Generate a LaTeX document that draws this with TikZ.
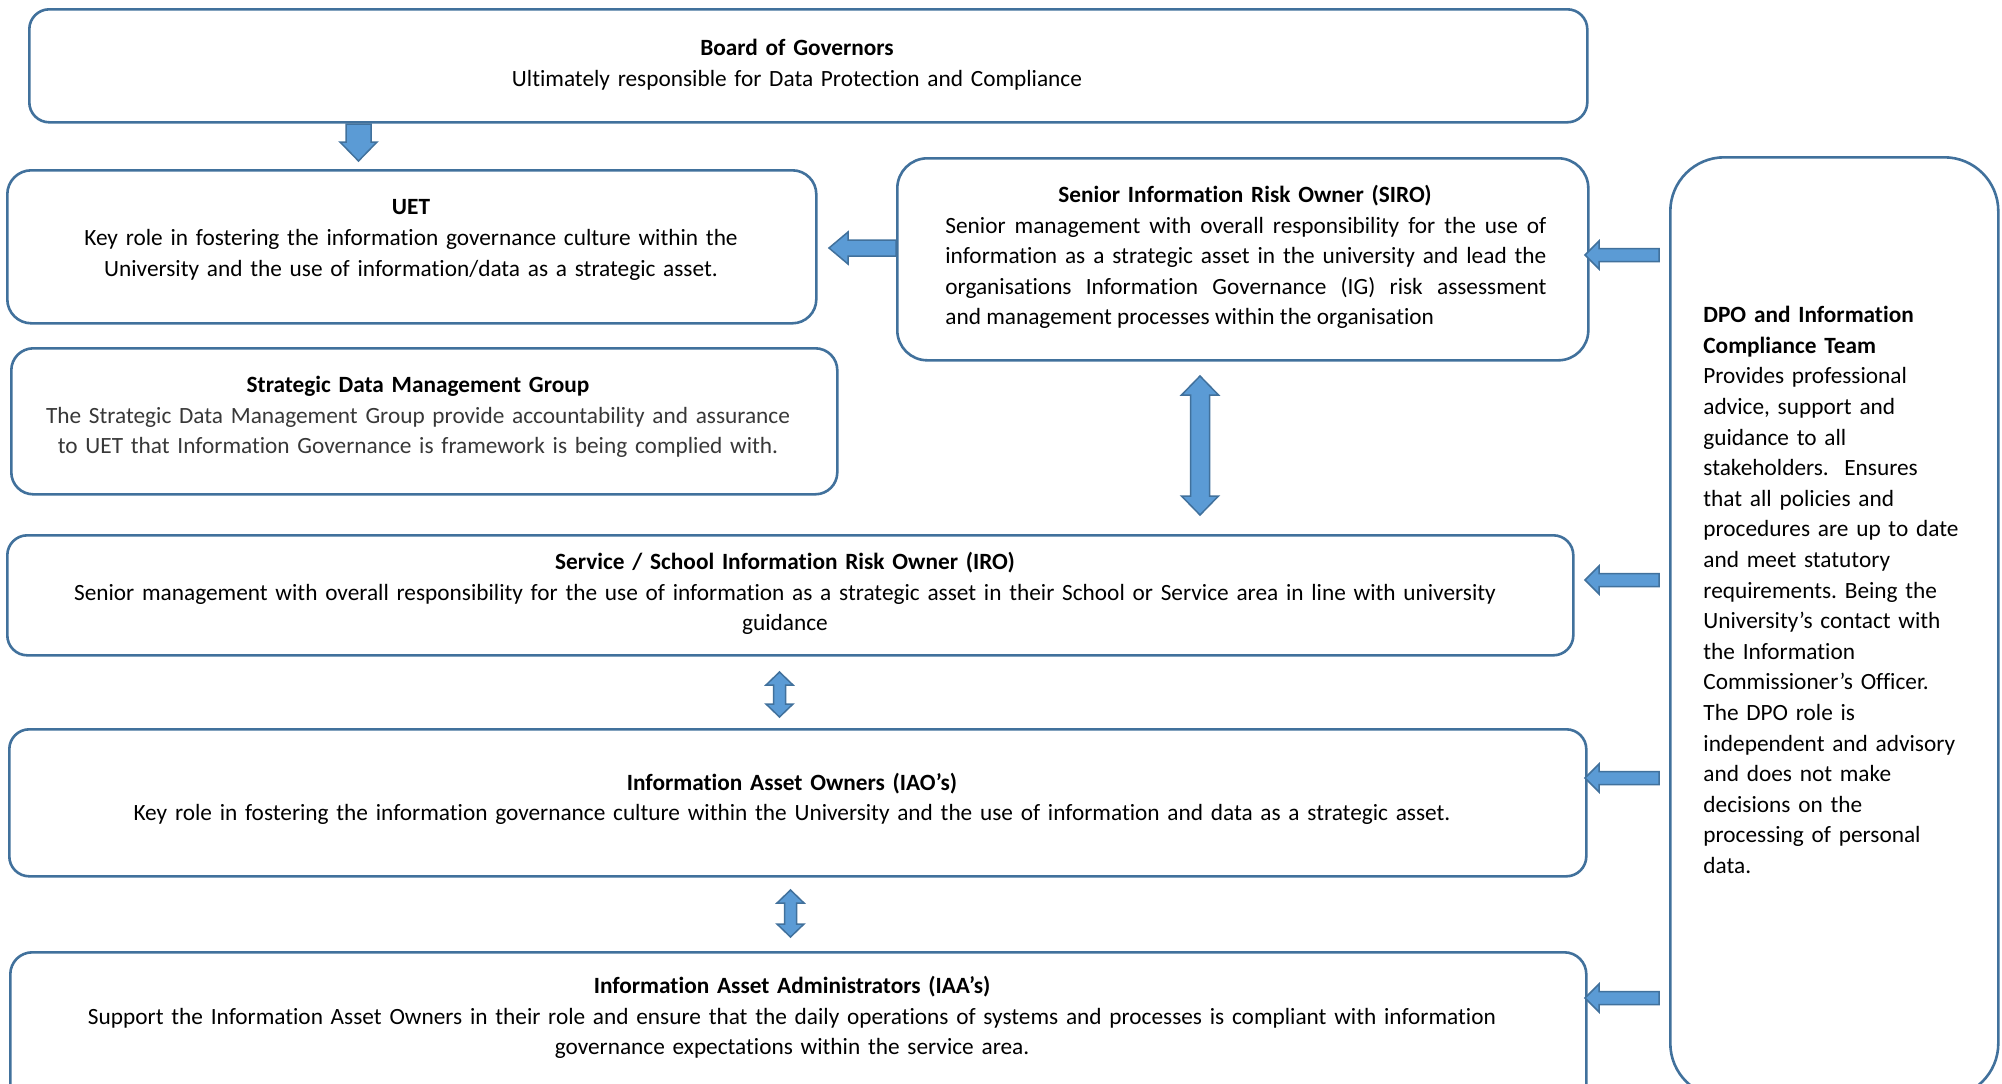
\documentclass[tikz,border=0pt]{standalone}
\usepackage{fontspec}
\setmainfont{Carlito}[Ligatures=NoCommon]
\usetikzlibrary{calc}
\definecolor{edge}{RGB}{65,113,156}
\definecolor{afill}{RGB}{91,155,213}
\newcommand\fs{\fontsize{11.65pt}{15.3pt}\selectfont\frenchspacing}
\newcommand\st{\rule{0pt}{11pt}}
% left-pointing block arrow: tip x, tip y, length, head length, head width, shaft width
\newcommand\myLarrow[6]{\draw[barrow] (#1,#2) -- ++(#4,{-#5/2}) -- ++(0,{(#5-#6)/2}) -- ++({#3-#4},0) -- ++(0,#6) -- ++({-(#3-#4)},0) -- ++(0,{(#5-#6)/2}) -- cycle;}
% down-pointing block arrow: x, tip y, length, head length, head width, shaft width
\newcommand\myDarrow[6]{\draw[barrow] (#1,#2) -- ++({-#5/2},{-#4}) -- ++({(#5-#6)/2},0) -- ++(0,{-(#3-#4)}) -- ++(#6,0) -- ++(0,{#3-#4}) -- ++({(#5-#6)/2},0) -- cycle;}
% vertical double block arrow: x, top tip y, bottom tip y, head length, head width, shaft width
\newcommand\myVDarrow[6]{\draw[barrow] (#1,#2) -- ++({#5/2},#4) -- ++({-(#5-#6)/2},0) -- ({#1+#6/2},{#3-#4}) -- ++({(#5-#6)/2},0) -- (#1,#3) -- ++({-#5/2},{-#4}) -- ++({(#5-#6)/2},0) -- ({#1-#6/2},{#2+#4}) -- ++({-(#5-#6)/2},0) -- cycle;}
\begin{document}
\begin{tikzpicture}[x=0.5pt,y=-0.5pt,
  box/.style={draw=edge, line width=1.3pt, fill=white, anchor=north west, inner sep=0pt},
  barrow/.style={draw=edge, fill=afill, line width=0.75pt, line join=miter},
  txt/.style={inner sep=0pt, font=\fs, align=center, anchor=north, text width=#1},
  txt/.default=700pt
]
\useasboundingbox (0,0) rectangle (2002,1083);
\clip (0,0) rectangle (2002,1083);
\fill[white] (0,0) rectangle (2002,1083);

% boxes
\node[box, rounded corners=10pt, minimum width=779pt, minimum height=56.5pt] (board) at (28,8) {};
\node[box, rounded corners=12pt, minimum width=404.5pt, minimum height=76.5pt] (uet) at (6,169) {};
\node[box, rounded corners=15pt, minimum width=345.5pt, minimum height=101pt] (siro) at (896,157) {};
\node[box, rounded corners=11pt, minimum width=413pt, minimum height=73pt] (sdmg) at (10,347) {};
\node[box, rounded corners=10pt, minimum width=783pt, minimum height=60pt] (iro) at (6,534) {};
\node[box, rounded corners=10pt, minimum width=788.5pt, minimum height=73.5pt] (iao) at (8,728) {};
\node[box, rounded corners=11pt, minimum width=788pt, minimum height=100pt] (iaa) at (9,951) {};
\node[box, rounded corners=27pt, minimum width=164pt, minimum height=470pt] (dpo) at (1669,156) {};

% texts
\node[txt] (tboard) at (797,33) {\st\textbf{Board of Governors}\\Ultimately responsible for Data Protection and Compliance};
\node[txt=400pt] (tuet) at (411,192.5) {\st\textbf{UET}\\Key role in fostering the information governance culture within the\\University and the use of information/data as a strategic asset.};
\node[txt=330pt] (tsirohead) at (1245,180.1) {\st\textbf{Senior Information Risk Owner (SIRO)}};
\node[inner sep=0pt, font=\fs, align=justify, text width=300.5pt, anchor=north west] (tsiro) at (945,210.7) {\st Senior management with overall responsibility for the use of\linebreak information as a strategic asset in the university and lead the\linebreak organisations Information Governance (IG) risk assessment\linebreak and management processes within the organisation};
\node[txt=412pt] (tsdmg) at (418,370.3) {\st\textbf{Strategic Data Management Group}\\\color{black!78}The Strategic Data Management Group provide accountability and assurance\\\color{black!78}to UET that Information Governance is framework is being complied with.};
\node[txt=780pt] (tiro) at (785,547.3) {\st\textbf{Service / School Information Risk Owner (IRO)}\\Senior management with overall responsibility for the use of information as a strategic asset in their School or Service area in line with university\\guidance};
\node[txt=780pt] (tiao) at (792,767.9) {\st\textbf{Information Asset Owners (IAO’s)}\\Key role in fostering the information governance culture within the University and the use of information and data as a strategic asset.};
\node[txt=780pt] (tiaa) at (792,971.3) {\st\textbf{Information Asset Administrators (IAA’s)}\\Support the Information Asset Owners in their role and ensure that the daily operations of systems and processes is compliant with information\\governance expectations within the service area.};
\node[inner sep=0pt, font=\fs, align=left, text width=145pt, anchor=north west] (tdpo) at (1703,300.2) {\st\textbf{DPO and Information}\\\textbf{Compliance Team}\\Provides professional\\advice, support and\\guidance to all\\stakeholders.\ \ Ensures\\that all policies and\\procedures are up to date\\and meet statutory\\requirements. Being the\\University’s contact with\\the Information\\Commissioner’s Officer.\\The DPO role is\\independent and advisory\\and does not make\\decisions on the\\processing of personal\\data.};

% block arrows
\myDarrow{358.5}{161}{37}{19}{37}{25}
\myLarrow{829}{248}{67}{19}{32}{16}
\myLarrow{1585}{255}{74}{14}{28}{13}
\myLarrow{1585}{580}{74}{14}{28}{13}
\myLarrow{1585}{778}{74}{14}{28}{13}
\myLarrow{1585}{998}{74}{14}{28}{13}
\myVDarrow{1200}{376}{515}{19}{37}{19}
\myVDarrow{779.5}{672}{717}{13}{27}{12}
\myVDarrow{790.5}{890}{937}{13}{27}{12}
\end{tikzpicture}
\end{document}
